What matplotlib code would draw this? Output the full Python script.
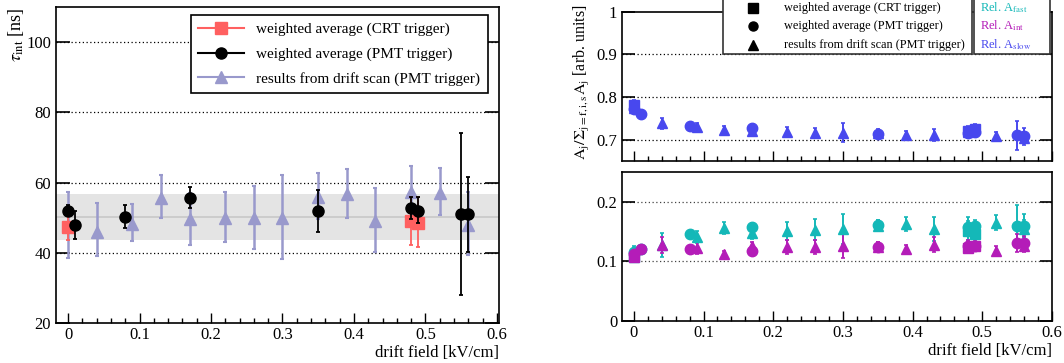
import matplotlib
matplotlib.use("Agg")
import matplotlib.pyplot as plt
from matplotlib.lines import Line2D
from matplotlib.patches import Rectangle
from matplotlib.ticker import MultipleLocator

plt.rcParams['font.family'] = ['Liberation Serif', 'DejaVu Serif']
plt.rcParams['mathtext.fontset'] = 'stix'

# ---- left panel: tau_int vs drift field ----
crt_x = [0.0, 0.48, 0.49]
crt_y = [47.5, 49.0, 48.5]
crt_lo = [43.7, 42.3, 41.8]
crt_hi = [51.3, 56.0, 56.0]

pmt_x = [0.0, 0.01, 0.08, 0.17, 0.35, 0.48, 0.49, 0.55, 0.56]
pmt_y = [52.0, 48.0, 50.3, 55.6, 52.0, 52.8, 52.0, 51.0, 51.0]
pmt_lo = [50.5, 44.0, 47.0, 52.7, 45.8, 49.5, 48.5, 28.0, 40.3]
pmt_hi = [53.5, 52.0, 53.5, 58.7, 58.0, 56.0, 55.8, 74.0, 61.5]

scan_x = [0.0, 0.04, 0.09, 0.13, 0.17, 0.22, 0.26, 0.30, 0.35, 0.39, 0.43, 0.48, 0.52, 0.56]
scan_y = [48.0, 46.0, 48.2, 55.5, 49.5, 50.0, 49.8, 49.8, 55.8, 56.8, 49.0, 57.3, 57.0, 48.0]
scan_lo = [38.5, 39.0, 43.3, 49.8, 42.3, 43.2, 41.2, 38.2, 49.5, 49.8, 40.2, 50.0, 50.8, 39.5]
scan_hi = [57.3, 54.1, 53.9, 62.3, 57.0, 57.4, 59.0, 62.3, 62.8, 63.8, 58.5, 64.8, 64.3, 57.2]

band_mean = 50.3
band_lo = 43.8
band_hi = 56.7

x_ticks = [0.0, 0.1, 0.2, 0.3, 0.4, 0.5, 0.6]
x_labels = ['0', '0.1', '0.2', '0.3', '0.4', '0.5', '0.6']

# ---- right panels: relative amplitudes ----
sq_x = [0.0, 0.48, 0.49]
ci_x = pmt_x
tr_x = scan_x

slow_sq = [0.782, 0.720, 0.724]
slow_sq_e = [0.012, 0.012, 0.012]
slow_ci = [0.772, 0.760, 0.733, 0.727, 0.713, 0.716, 0.718, 0.710, 0.708]
slow_ci_e = [0.010, 0.006, 0.005, 0.010, 0.010, 0.012, 0.012, 0.034, 0.020]
slow_tr = [0.775, 0.739, 0.729, 0.723, 0.720, 0.718, 0.716, 0.716, 0.715, 0.711, 0.712, 0.718, 0.709, 0.705]
slow_tr_e = [0.010, 0.013, 0.010, 0.010, 0.010, 0.012, 0.012, 0.022, 0.010, 0.010, 0.014, 0.012, 0.010, 0.012]

fast_sq = [0.108, 0.150, 0.145]
fast_sq_e = [0.008, 0.015, 0.015]
fast_ci = [0.115, 0.120, 0.146, 0.157, 0.161, 0.158, 0.160, 0.159, 0.160]
fast_ci_e = [0.010, 0.005, 0.004, 0.008, 0.008, 0.010, 0.010, 0.035, 0.020]
fast_tr = [0.112, 0.128, 0.141, 0.156, 0.148, 0.151, 0.153, 0.154, 0.160, 0.163, 0.154, 0.160, 0.165, 0.155]
fast_tr_e = [0.010, 0.020, 0.010, 0.010, 0.010, 0.015, 0.018, 0.025, 0.010, 0.012, 0.020, 0.015, 0.012, 0.015]

int_sq = [0.108, 0.123, 0.126]
int_sq_e = [0.008, 0.006, 0.006]
int_ci = [0.112, 0.120, 0.121, 0.117, 0.124, 0.125, 0.126, 0.130, 0.130]
int_ci_e = [0.010, 0.005, 0.004, 0.006, 0.008, 0.008, 0.008, 0.015, 0.012]
int_tr = [0.110, 0.127, 0.122, 0.112, 0.125, 0.124, 0.124, 0.125, 0.124, 0.120, 0.128, 0.125, 0.118, 0.125]
int_tr_e = [0.010, 0.013, 0.010, 0.005, 0.008, 0.012, 0.012, 0.020, 0.008, 0.008, 0.013, 0.010, 0.008, 0.010]

c_red = '#ff6060'
c_lav = '#9999cc'
c_fast = '#14b8b8'
c_int = '#b41cb8'
c_slow = '#4848ee'


def style_axis(ax, ylen=10):
    for s in ax.spines.values():
        s.set_linewidth(1.2)
    ax.set_xticks(x_ticks, x_labels)
    ax.xaxis.set_minor_locator(MultipleLocator(0.02))
    ax.tick_params(axis='x', which='major', direction='in', length=7, width=1, labelsize=12, pad=3)
    ax.tick_params(axis='x', which='minor', direction='in', length=3.5, width=1)
    ax.tick_params(axis='y', which='major', direction='in', length=ylen, width=1.2,
                   labelsize=12, right=True)
    ax.tick_params(axis='y', which='minor', left=False, right=False)


def asym(y, lo, hi):
    return [[a - b for a, b in zip(y, lo)], [b - a for a, b in zip(y, hi)]]


fig = plt.figure(figsize=(10.64, 3.63), dpi=100)

# left panel
ax = fig.add_axes([0.0526, 0.110, 0.4164, 0.8705])
ax.set_ylim(20, 110)
ax.set_yticks([20, 40, 60, 80, 100])
ax.axhspan(band_lo, band_hi, color='#e4e4e4', zorder=0, lw=0)
ax.axhline(band_mean, color='#c8c8c8', lw=1.2, zorder=0.5)
for v in [40, 60, 80, 100]:
    ax.axhline(v, color='black', ls=(0, (1, 2)), lw=0.9, zorder=0.6)

ax.errorbar(scan_x, scan_y, yerr=asym(scan_y, scan_lo, scan_hi), fmt='^', color=c_lav,
            ms=8, elinewidth=1.8, capsize=1.5, capthick=1.5, zorder=2)
ax.errorbar(crt_x, crt_y, yerr=asym(crt_y, crt_lo, crt_hi), fmt='s', color=c_red,
            ms=8, elinewidth=1.3, capsize=1.5, capthick=1.3, zorder=3)
ax.errorbar(pmt_x, pmt_y, yerr=asym(pmt_y, pmt_lo, pmt_hi), fmt='o', color='black',
            ms=8, elinewidth=1.3, capsize=1.5, capthick=1.3, zorder=4)
style_axis(ax, ylen=10)
ax.set_xlim(-0.017, 0.603)

handles = [Line2D([], [], color=c_red, marker='s', ms=8, lw=1.5),
           Line2D([], [], color='black', marker='o', ms=8, lw=1.5),
           Line2D([], [], color=c_lav, marker='^', ms=8, lw=1.5)]
labels = ['weighted average (CRT trigger)', 'weighted average (PMT trigger)',
          'results from drift scan (PMT trigger)']
leg = ax.legend(handles, labels, loc='upper right', bbox_to_anchor=(0.975, 0.975),
                borderaxespad=0, fontsize=11, handlelength=3.0, handletextpad=0.8,
                labelspacing=0.7, fancybox=False, edgecolor='black', framealpha=1,
                borderpad=0.5)
leg.get_frame().set_linewidth(1.2)

fig.text(0.0146, 0.98, r'$\tau_{\rm int}$ [ns]', rotation=90, ha='center', va='top', fontsize=13)
fig.text(499 / 1064, 0.006, 'drift field [kV/cm]', ha='right', va='bottom', fontsize=12)

# top right panel (slow)
at = fig.add_axes([0.5846, 0.5565, 0.4041, 0.411])
at.set_ylim(0.65, 1.0)
at.set_yticks([0.7, 0.8, 0.9, 1.0])
at.set_yticklabels(['0.7', '0.8', '0.9', '1'])
for v in [0.7, 0.8, 0.9]:
    at.axhline(v, color='black', ls=(0, (1, 2)), lw=0.9, zorder=0.6)
kw = dict(elinewidth=1.4, capsize=1.2, capthick=1.2, color=c_slow)
at.errorbar(tr_x, slow_tr, yerr=slow_tr_e, fmt='^', ms=7.5, **kw)
at.errorbar(ci_x, slow_ci, yerr=slow_ci_e, fmt='o', ms=7.5, **kw)
at.errorbar(sq_x, slow_sq, yerr=slow_sq_e, fmt='s', ms=7.5, **kw)
style_axis(at, ylen=9)
at.tick_params(axis='x', labelbottom=False)
at.set_xlim(-0.017, 0.6)

# bottom right panel (fast, int)
ab = fig.add_axes([0.5846, 0.1157, 0.4041, 0.411])
ab.set_ylim(0, 0.25)
ab.set_yticks([0, 0.1, 0.2])
ab.set_yticklabels(['0', '0.1', '0.2'])
for v in [0.1, 0.2]:
    ab.axhline(v, color='#444444', ls=(0, (1, 2)), lw=0.9, zorder=0.6)
for col, sq, sqe, ci, cie, tr, tre in [(c_fast, fast_sq, fast_sq_e, fast_ci, fast_ci_e, fast_tr, fast_tr_e),
                                       (c_int, int_sq, int_sq_e, int_ci, int_ci_e, int_tr, int_tr_e)]:
    kw = dict(elinewidth=1.4, capsize=1.2, capthick=1.2, color=col)
    ab.errorbar(tr_x, tr, yerr=tre, fmt='^', ms=7.5, **kw)
    ab.errorbar(ci_x, ci, yerr=cie, fmt='o', ms=7.5, **kw)
    ab.errorbar(sq_x, sq, yerr=sqe, fmt='s', ms=7.5, **kw)
style_axis(ab, ylen=9)
ab.set_xlim(-0.017, 0.6)

fig.text(581.5 / 1064, 0.774, r'$\mathrm{A_j/\Sigma_{j=f,i,s}A_j}$ [arb. units]',
         rotation=90, ha='center', va='center', fontsize=11.5)
fig.text(1052 / 1064, 0.01, 'drift field [kV/cm]', ha='right', va='bottom', fontsize=12)

# legends of the right panels (boxes run over the top edge)
H = 363.0
W = 1064.0
fig.patches.append(Rectangle((722.7 / W, 1 - 54 / H), 249 / W, 60 / H, transform=fig.transFigure,
                             facecolor='white', edgecolor='#333333', lw=1.2, zorder=5))
fig.patches.append(Rectangle((974 / W, 1 - 54 / H), 76 / W, 60 / H, transform=fig.transFigure,
                             facecolor='white', edgecolor='#333333', lw=1.2, zorder=5))
rows = [8, 26, 45]
mk = ['s', 'o', '^']
for r, m, t in zip(rows, mk, labels):
    fig.lines.append(Line2D([753 / W], [1 - r / H], marker=m, color='black', ms=6.5,
                            ls='none', transform=fig.transFigure, zorder=6))
    fig.text(784 / W, 1 - r / H, t, ha='left', va='center', fontsize=8.8, zorder=6)
rel = [r'Rel. A$_{\rm fast}$', r'Rel. A$_{\rm int}$', r'Rel. A$_{\rm slow}$']
for r, t, c in zip(rows, rel, [c_fast, c_int, c_slow]):
    fig.text(980 / W, 1 - r / H, t, ha='left', va='center', fontsize=9, color=c, zorder=6)

fig.savefig('out.png', dpi=100)
